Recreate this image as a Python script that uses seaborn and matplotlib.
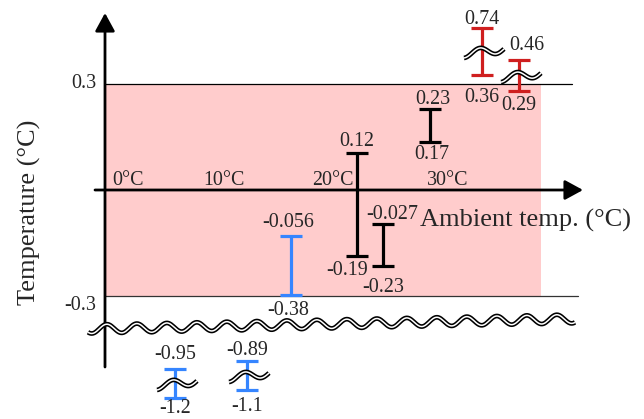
import numpy as np
import matplotlib
matplotlib.use("Agg")
import matplotlib.pyplot as plt
import seaborn as sns

# ambient temperature of each measurement (deg C)
amb_temp = [7.0, 14.2, 18.6, 25.2, 27.8, 32.5, 37.7, 41.4]
# printed end values of each bar
top_text = ["-0.95", "-0.89", "-0.056", "0.12", "-0.027", "0.23", "0.74", "0.46"]
bot_text = ["-1.2", "-1.1", "-0.38", "-0.19", "-0.23", "0.17", "0.36", "0.29"]
# where the bar ends sit on the sketch's (not to scale, broken) axis
top_y = [-0.507, -0.484, -0.130, 0.105, -0.096, 0.229, 0.459, 0.368]
bot_y = [-0.589, -0.567, -0.297, -0.187, -0.215, 0.136, 0.326, 0.280]
group = ["low", "low", "low", "mid", "mid", "mid", "high", "high"]
broken = [True, True, False, False, False, False, True, True]

xtick_pos = [0.7, 9.8, 20.7, 32.2]
xtick_labels = ["0°C", "10°C", "20°C", "30°C"]
ytick_pos = [0.3, -0.3]
ytick_labels = ["0.3", "-0.3"]

colors = {"low": "#3585FF", "mid": "black", "high": "#CF1F1F"}

# label offsets in pixels (dx, dy) from the bar end to the text centre
top_off = [(0, 17), (0, 13), (-3, 16), (0, 14), (9, 12), (3, 12), (0, 11), (8, 17)]
bot_off = [(0, -8), (0, -14), (-3, -13), (-10, -12), (0, -19), (2, -10), (0, -20), (0, -12)]
HALF_DIGIT = 7      # pixels from baseline to middle of the digits

PX_X = 0.1          # deg C per pixel
PX_Y = 1 / 353.0    # axis unit per pixel

sns.set_theme(style="white")
plt.rcParams['font.family'] = ['Liberation Serif', 'DejaVu Serif']

fig = plt.figure(figsize=(6.44, 4.19), dpi=100)
ax = fig.add_axes([0, 0, 1, 1])
ax.set_xlim(-10.5, 53.9)
ax.set_ylim(-229 / 353.0, 190 / 353.0)
ax.axis('off')


def double_wave(x, y):
    ax.plot(x, y, color='black', lw=3.4, solid_capstyle='butt', zorder=5)
    ax.plot(x, y, color='white', lw=1.1, solid_capstyle='butt', zorder=6)


def label(txt, xy, off, **kw):
    ax.annotate(txt, xy, xytext=(off[0], off[1] - HALF_DIGIT),
                textcoords='offset pixels', va='baseline', zorder=7, **kw)


# tolerance band
ax.fill_between([0, 43.6], -0.3, 0.3, color='#FFCCCC', lw=0, zorder=0)
ax.plot([0, 46.7], [0.3, 0.3], color='black', lw=0.9, zorder=1)
ax.plot([0, 47.3], [-0.3, -0.3], color='#333333', lw=0.9, zorder=1)

# axes with arrows
arrow = dict(arrowstyle='-|>,head_length=0.55,head_width=0.3', lw=2.0,
             color='black', mutation_scale=20, shrinkA=0, shrinkB=0)
ax.annotate('', xy=(47.8, 0), xytext=(-1.0, 0), arrowprops=arrow, zorder=3)
ax.annotate('', xy=(0, 177 * PX_Y), xytext=(0, -177 * PX_Y), arrowprops=arrow, zorder=3)

# axis break across the plot
t = np.linspace(0, 1, 400)
xs = -1.7 + t * 48.7
ys = (-0.394 + t * 0.029) + 4.5 * PX_Y * np.sin(2 * np.pi * (xs / (30 * PX_X)) + 1.2)
double_wave(xs, ys)

# range bars
for i in range(len(amb_temp)):
    c = colors[group[i]]
    mid = (top_y[i] + bot_y[i]) / 2
    err = (top_y[i] - bot_y[i]) / 2
    ax.errorbar(amb_temp[i], mid, yerr=err, fmt='none', ecolor=c,
                elinewidth=2.3, capsize=7.6, capthick=2.3, zorder=4)
    if broken[i]:
        s = np.linspace(-0.25, 1.0, 100)
        bx = amb_temp[i] + 0.2 + (s - 0.375) * 32 * PX_X
        by = mid + (4 * np.sin(2 * np.pi * s) + (s - 0.375) * 4) * PX_Y
        double_wave(bx, by)
    label(top_text[i], (amb_temp[i], top_y[i]), top_off[i], ha='center', fontsize=14.4)
    label(bot_text[i], (amb_temp[i], bot_y[i]), bot_off[i], ha='center', fontsize=14.4)

# tick labels
for p, lab in zip(xtick_pos, xtick_labels):
    label(lab, (p, 0), (0, 12), ha='left', fontsize=14.4)
for p, lab in zip(ytick_pos, ytick_labels):
    label(lab, (0, p), (-9, 3 if p > 0 else -7), ha='right', fontsize=14.4)

ax.text(31.5, -0.085, "Ambient temp. (°C)", ha='left', va='center', fontsize=19, zorder=7)
ax.text(-7.6, -0.062, "Temperature (°C)", rotation=90, ha='center', va='center', fontsize=19)

fig.savefig("out.png", dpi=100)
